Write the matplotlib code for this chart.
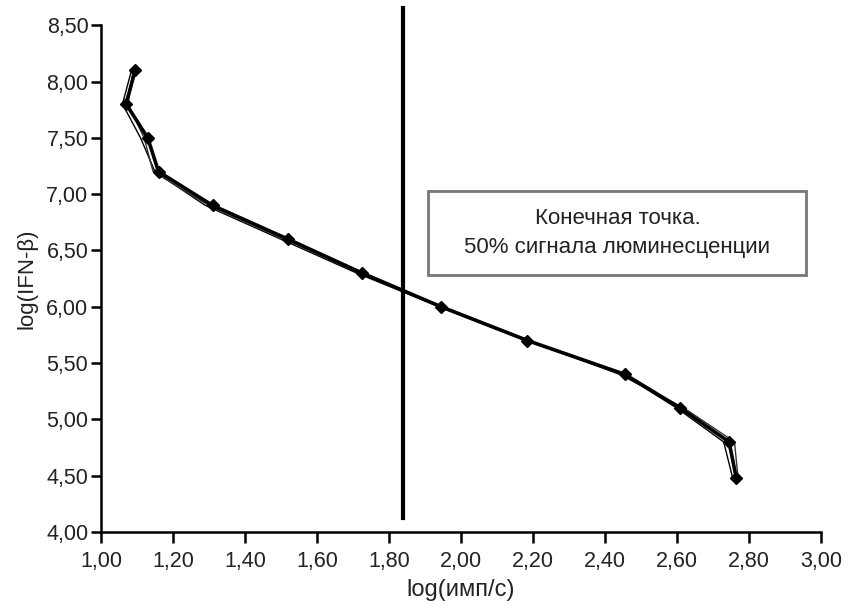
import matplotlib
matplotlib.use("Agg")
import matplotlib.pyplot as plt
from matplotlib.ticker import FuncFormatter, MultipleLocator
from matplotlib.patches import Rectangle

plt.rcParams['font.family'] = ['Liberation Sans', 'DejaVu Sans']

# Data (three overlapping replicate curves)
y_vals = [8.10, 7.80, 7.50, 7.20, 6.90, 6.60, 6.30, 6.00, 5.70, 5.40, 5.10, 4.80, 4.48]
x_main = [1.095, 1.07, 1.13, 1.16, 1.31, 1.52, 1.725, 1.945, 2.185, 2.455, 2.61, 2.745, 2.765]
x_rep2 = [1.085, 1.06, 1.11, 1.15, 1.29, 1.50, 1.71, 1.94, 2.18, 2.45, 2.60, 2.73, 2.755]
x_rep3 = [1.09, 1.075, 1.12, 1.145, 1.30, 1.51, 1.72, 1.95, 2.19, 2.44, 2.62, 2.76, 2.77]
cutoff_x = 1.84
cutoff_y = [4.12, 8.65]
box_text = "Конечная точка.\n50% сигнала люминесценции"

fig = plt.figure(figsize=(8.48, 6.15), dpi=100)
ax = fig.add_axes([0.119, 0.135, 0.849, 0.824])

ax.plot(x_rep2, y_vals, color='black', lw=1.0, zorder=3)
ax.plot(x_rep3, y_vals, color='#333333', lw=1.0, zorder=3)
ax.plot(x_main, y_vals, color='black', lw=2.6, marker='D', markersize=6.5, zorder=4)

ax.plot([cutoff_x, cutoff_x], cutoff_y, color='black', lw=3, clip_on=False, zorder=5)

ax.add_patch(Rectangle((1.91, 6.28), 1.05, 0.75, facecolor='white', edgecolor='#777777', lw=2, zorder=2, clip_on=False))
ax.text(2.435, 6.655, box_text, ha='center', va='center', fontsize=16, linespacing=1.5, color='#222222', zorder=6)

ax.set_xlim(1.0, 3.0)
ax.set_ylim(4.0, 8.5)
ax.xaxis.set_major_locator(MultipleLocator(0.2))
ax.yaxis.set_major_locator(MultipleLocator(0.5))
fmt = FuncFormatter(lambda v, p: f"{v:.2f}".replace('.', ','))
ax.xaxis.set_major_formatter(fmt)
ax.yaxis.set_major_formatter(fmt)

for s in ['top', 'right']:
    ax.spines[s].set_visible(False)
for s in ['left', 'bottom']:
    ax.spines[s].set_linewidth(1.8)
ax.tick_params(axis='both', direction='out', length=8, width=1.8, labelsize=15.5, colors='black', labelcolor='#222222')
ax.tick_params(axis='y', pad=2, length=7)
ax.tick_params(axis='x', pad=6)

ax.set_xlabel("log(имп/с)", fontsize=17, color='#222222', labelpad=5)
ax.set_ylabel("log(IFN-β)", fontsize=16, color='#222222', labelpad=6)

fig.savefig("out.png", dpi=100)
